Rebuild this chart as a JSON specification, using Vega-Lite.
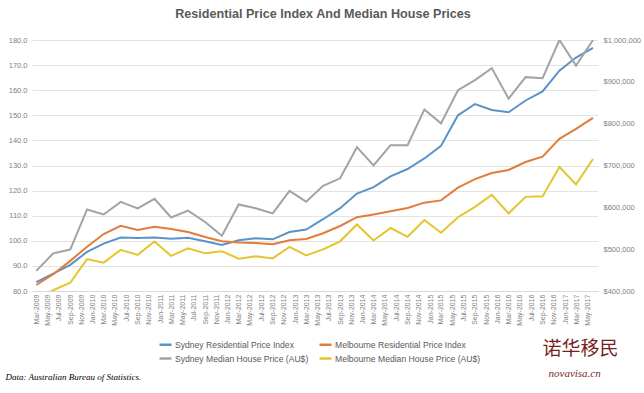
{
  "$schema": "https://vega.github.io/schema/vega-lite/v6.json",
  "autosize": "none",
  "width": 566,
  "height": 251,
  "padding": {"left": 32, "top": 40, "right": 46, "bottom": 102},
  "background": "white",
  "title": {
    "text": "Residential Price Index And Median House Prices",
    "font": "Liberation Sans",
    "fontSize": 12.6,
    "fontWeight": "bold",
    "color": "#5a5a5a",
    "anchor": "middle",
    "offset": 15,
    "dx": 8
  },
  "config": {
    "view": {"stroke": null},
    "axis": {"labelFont": "Liberation Sans", "labelColor": "#7f7f7f", "ticks": false, "domain": false}
  },
  "data": {
    "values": [
      {"date": "2009-03-01", "syd_rpi": 83.5, "mel_rpi": 82.4, "syd_med": 448000, "mel_med": 382000},
      {"date": "2009-06-01", "syd_rpi": 86.9, "mel_rpi": 86.7, "syd_med": 490000, "mel_med": 401800},
      {"date": "2009-09-01", "syd_rpi": 90.4, "mel_rpi": 92.0, "syd_med": 499000, "mel_med": 419800},
      {"date": "2009-12-01", "syd_rpi": 95.6, "mel_rpi": 97.6, "syd_med": 595000, "mel_med": 476200},
      {"date": "2010-03-01", "syd_rpi": 98.9, "mel_rpi": 102.7, "syd_med": 583000, "mel_med": 467800},
      {"date": "2010-06-01", "syd_rpi": 101.3, "mel_rpi": 106.0, "syd_med": 613000, "mel_med": 498400},
      {"date": "2010-09-01", "syd_rpi": 101.1, "mel_rpi": 104.3, "syd_med": 597400, "mel_med": 486400},
      {"date": "2010-12-01", "syd_rpi": 101.3, "mel_rpi": 105.6, "syd_med": 620200, "mel_med": 518200},
      {"date": "2011-03-01", "syd_rpi": 100.8, "mel_rpi": 104.7, "syd_med": 575800, "mel_med": 484000},
      {"date": "2011-06-01", "syd_rpi": 101.2, "mel_rpi": 103.5, "syd_med": 592000, "mel_med": 502000},
      {"date": "2011-09-01", "syd_rpi": 99.8, "mel_rpi": 101.5, "syd_med": 565000, "mel_med": 490000},
      {"date": "2011-12-01", "syd_rpi": 98.3, "mel_rpi": 99.8, "syd_med": 532000, "mel_med": 494800},
      {"date": "2012-03-01", "syd_rpi": 100.2, "mel_rpi": 99.3, "syd_med": 607000, "mel_med": 477400},
      {"date": "2012-06-01", "syd_rpi": 101.0, "mel_rpi": 99.1, "syd_med": 598000, "mel_med": 482800},
      {"date": "2012-09-01", "syd_rpi": 100.6, "mel_rpi": 98.6, "syd_med": 585400, "mel_med": 478000},
      {"date": "2012-12-01", "syd_rpi": 103.5, "mel_rpi": 100.2, "syd_med": 639400, "mel_med": 505600},
      {"date": "2013-03-01", "syd_rpi": 104.5, "mel_rpi": 100.7, "syd_med": 613600, "mel_med": 485200},
      {"date": "2013-06-01", "syd_rpi": 108.6, "mel_rpi": 103.0, "syd_med": 651400, "mel_med": 499600},
      {"date": "2013-09-01", "syd_rpi": 113.0, "mel_rpi": 105.9, "syd_med": 669400, "mel_med": 518800},
      {"date": "2013-12-01", "syd_rpi": 118.8, "mel_rpi": 109.4, "syd_med": 743800, "mel_med": 559000},
      {"date": "2014-03-01", "syd_rpi": 121.4, "mel_rpi": 110.5, "syd_med": 700000, "mel_med": 520600},
      {"date": "2014-06-01", "syd_rpi": 125.7, "mel_rpi": 111.8, "syd_med": 748600, "mel_med": 550600},
      {"date": "2014-09-01", "syd_rpi": 128.6, "mel_rpi": 113.1, "syd_med": 748600, "mel_med": 529600},
      {"date": "2014-12-01", "syd_rpi": 132.8, "mel_rpi": 115.2, "syd_med": 833800, "mel_med": 569800},
      {"date": "2015-03-01", "syd_rpi": 137.8, "mel_rpi": 116.1, "syd_med": 800800, "mel_med": 539200},
      {"date": "2015-06-01", "syd_rpi": 150.0, "mel_rpi": 121.2, "syd_med": 880000, "mel_med": 576400},
      {"date": "2015-09-01", "syd_rpi": 154.5, "mel_rpi": 124.6, "syd_med": 904000, "mel_med": 601000},
      {"date": "2015-12-01", "syd_rpi": 152.1, "mel_rpi": 127.0, "syd_med": 932800, "mel_med": 629800},
      {"date": "2016-03-01", "syd_rpi": 151.2, "mel_rpi": 128.2, "syd_med": 859600, "mel_med": 585400},
      {"date": "2016-06-01", "syd_rpi": 155.9, "mel_rpi": 131.4, "syd_med": 911200, "mel_med": 625000},
      {"date": "2016-09-01", "syd_rpi": 159.5, "mel_rpi": 133.5, "syd_med": 908800, "mel_med": 626200},
      {"date": "2016-12-01", "syd_rpi": 167.8, "mel_rpi": 140.6, "syd_med": 1000000, "mel_med": 696400},
      {"date": "2017-03-01", "syd_rpi": 173.0, "mel_rpi": 144.6, "syd_med": 938800, "mel_med": 655000},
      {"date": "2017-06-01", "syd_rpi": 176.9, "mel_rpi": 149.0, "syd_med": 1000000, "mel_med": 715600}
    ]
  },
  "encoding": {
    "x": {
      "field": "date",
      "type": "temporal",
      "scale": {"type": "utc", "domain": [{"year": 2009, "month": "Feb", "date": 6, "utc": true}, {"year": 2017, "month": "Jun", "date": 28, "utc": true}]},
      "axis": {
        "format": "%b-%Y",
        "tickCount": {"interval": "month", "step": 2},
        "labelAngle": -90,
        "labelFontSize": 7,
        "labelPadding": 3,
        "labelOverlap": false,
        "grid": false,
        "domain": true,
        "domainColor": "#d9d9d9",
        "title": "Data: Australian Bureau of Statistics.",
        "titleFont": "Liberation Serif",
        "titleFontStyle": "italic",
        "titleFontWeight": "normal",
        "titleFontSize": 9,
        "titleColor": "#000000",
        "titleAnchor": "start",
        "titleAlign": "left",
        "titleBaseline": "alphabetic",
        "titleX": -27,
        "titleY": 88
      }
    }
  },
  "layer": [
    {
      "transform": [{"fold": ["syd_rpi", "mel_rpi"], "as": ["series", "value"]}],
      "mark": {"type": "line", "strokeWidth": 2, "clip": true},
      "encoding": {
        "y": {
          "field": "value",
          "type": "quantitative",
          "scale": {"domain": [80, 180], "nice": false, "zero": false},
          "axis": {
            "values": [80, 90, 100, 110, 120, 130, 140, 150, 160, 170, 180],
            "format": ".1f",
            "labelFontSize": 7.5,
            "labelPadding": 5,
            "grid": true,
            "gridColor": "#e3e3e3",
            "title": "诺华移民",
            "titleFont": "Noto Sans CJK SC",
            "titleFontSize": 19,
            "titleFontWeight": "normal",
            "titleColor": "#7a1f1f",
            "titleAngle": 0,
            "titleAlign": "left",
            "titleBaseline": "alphabetic",
            "titleX": 510,
            "titleY": 314
          }
        },
        "color": {
          "field": "series",
          "type": "nominal",
          "scale": {
            "domain": ["syd_rpi", "syd_med", "mel_rpi", "mel_med"],
            "range": ["#5b93c7", "#a3a3a3", "#e27c3a", "#e6c52c"]
          },
          "legend": {
            "orient": "none",
            "legendX": 126,
            "legendY": 297,
            "columns": 2,
            "title": null,
            "labelFont": "Liberation Sans",
            "labelFontSize": 8.6,
            "labelColor": "#595959",
            "symbolType": "stroke",
            "symbolSize": 144,
            "symbolStrokeWidth": 2.5,
            "columnPadding": 5,
            "rowPadding": 1,
            "labelOffset": 2,
            "labelExpr": "datum.label == 'syd_rpi' ? 'Sydney Residential Price Index' : datum.label == 'mel_rpi' ? 'Melbourne Residential Price Index' : datum.label == 'syd_med' ? 'Sydney Median House Price (AU$)' : 'Melbourne Median House Price (AU$)'"
          }
        }
      }
    },
    {
      "transform": [{"fold": ["syd_med", "mel_med"], "as": ["series", "value"]}],
      "mark": {"type": "line", "strokeWidth": 2, "clip": true},
      "encoding": {
        "y": {
          "field": "value",
          "type": "quantitative",
          "scale": {"domain": [400000, 1000000], "nice": false, "zero": false},
          "axis": {
            "orient": "right",
            "values": [400000, 500000, 600000, 700000, 800000, 900000, 1000000],
            "format": "$,.0f",
            "labelFontSize": 7.5,
            "labelPadding": 5,
            "grid": false,
            "title": "novavisa.cn",
            "titleFont": "Liberation Serif",
            "titleFontStyle": "italic",
            "titleFontSize": 11,
            "titleFontWeight": "normal",
            "titleColor": "#7a1f1f",
            "titleAngle": 0,
            "titleAlign": "left",
            "titleBaseline": "alphabetic",
            "titleX": -50,
            "titleY": 336
          }
        },
        "color": {"field": "series", "type": "nominal"}
      }
    }
  ],
  "resolve": {"scale": {"y": "independent"}}
}
